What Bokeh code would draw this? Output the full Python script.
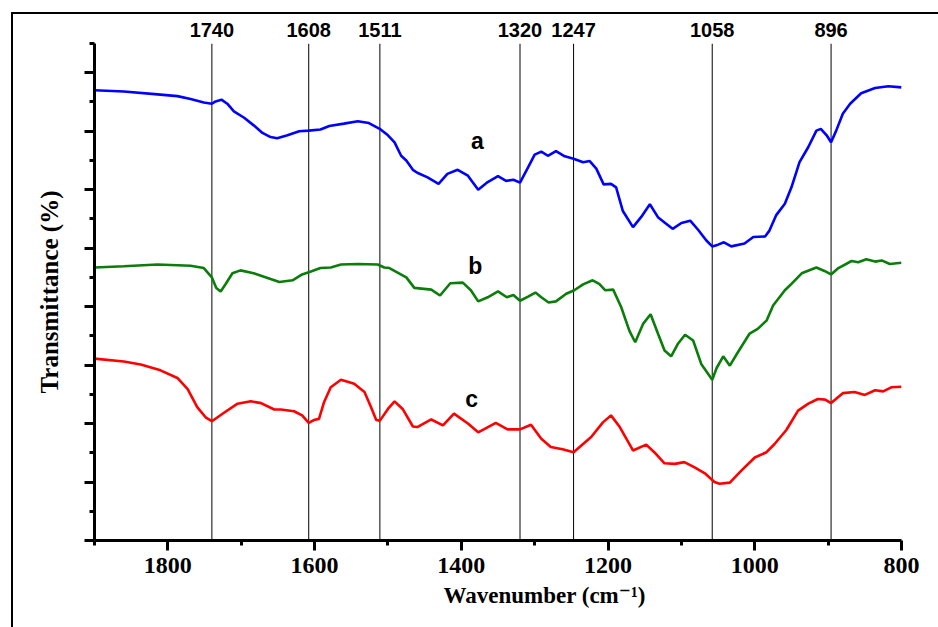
import math
from bokeh.plotting import figure
from bokeh.models import Range1d, FixedTicker, LinearAxis, Span, Label, Title, CustomJSTickFormatter
from bokeh.embed import file_html
from bokeh.resources import INLINE

# ---- data (wavenumber, transmittance in arbitrary offset units) ----
wn_a = [1900, 1860, 1814, 1787, 1769, 1751, 1740, 1735, 1727, 1719, 1710, 1696, 1683, 1671, 1660,
        1651, 1637, 1621, 1608, 1592, 1580, 1560, 1541, 1526, 1510, 1500, 1491, 1482, 1475, 1466,
        1460, 1446, 1431, 1419, 1405, 1391, 1377, 1364, 1350, 1339, 1329, 1320, 1309, 1300, 1291,
        1282, 1271, 1259, 1247, 1234, 1225, 1216, 1206, 1196, 1189, 1180, 1166, 1155, 1143, 1132,
        1123, 1112, 1100, 1088, 1077, 1066, 1058, 1050, 1042, 1032, 1014, 1002, 986, 980, 971,
        959, 950, 939, 927, 916, 910, 902, 896, 889, 880, 870, 855, 836, 818, 800]
t_a = [77.0, 76.8, 76.3, 76.0, 75.5, 74.9, 74.7, 75.1, 75.4, 74.7, 73.4, 72.3, 71.0, 69.7, 69.0,
       68.8, 69.3, 70.0, 70.1, 70.3, 70.9, 71.3, 71.7, 71.4, 70.3, 69.3, 68.1, 65.8, 65.0, 63.4,
       62.9, 62.1, 61.0, 62.7, 63.4, 62.4, 60.0, 61.3, 62.3, 61.5, 61.7, 61.2, 63.8, 66.0, 66.5,
       65.8, 66.6, 65.7, 65.3, 64.7, 64.9, 63.6, 60.9, 61.0, 60.4, 56.4, 53.6, 55.3, 57.5, 55.3,
       54.4, 53.3, 54.3, 54.7, 53.1, 51.3, 50.3, 50.6, 51.0, 50.3, 50.8, 51.9, 52.0, 53.0, 55.6,
       57.6, 60.4, 64.7, 67.3, 70.1, 70.4, 69.3, 68.1, 70.1, 73.0, 74.7, 76.5, 77.4, 77.7, 77.5]

wn_b = [1900, 1860, 1814, 1769, 1751, 1740, 1734, 1728, 1721, 1712, 1701, 1683, 1664, 1648, 1630,
        1617, 1605, 1592, 1578, 1564, 1541, 1514, 1505, 1498, 1485, 1475, 1464, 1441, 1429, 1415,
        1398, 1387, 1377, 1364, 1350, 1338, 1329, 1320, 1309, 1299, 1291, 1281, 1271, 1257, 1246,
        1234, 1221, 1212, 1204, 1193, 1182, 1171, 1163, 1152, 1142, 1132, 1123, 1114, 1105, 1095,
        1084, 1073, 1058, 1052, 1043, 1034, 1023, 1007, 996, 984, 975, 959, 950, 936, 916,
        905, 896, 886, 868, 859, 848, 836, 827, 816, 800]
t_b = [46.7, 46.9, 47.2, 47.0, 46.6, 45.0, 43.2, 42.6, 43.9, 45.7, 46.2, 45.7, 44.9, 44.2, 44.5,
       45.5, 46.0, 46.6, 46.7, 47.2, 47.3, 47.2, 46.7, 46.6, 45.7, 45.0, 43.2, 42.9, 41.9, 44.0,
       44.1, 42.8, 40.9, 41.6, 42.6, 41.6, 42.0, 41.0, 41.7, 42.4, 41.6, 40.7, 40.9, 42.2, 42.8,
       43.8, 44.5, 43.9, 42.8, 42.9, 39.9, 35.9, 33.9, 37.1, 38.7, 35.4, 32.5, 31.5, 33.6, 35.2,
       34.2, 30.2, 27.5, 29.5, 31.5, 29.9, 32.2, 35.4, 36.2, 37.6, 40.2, 42.8, 43.9, 45.7, 46.7,
       46.1, 45.5, 46.6, 47.8, 47.6, 48.1, 47.7, 47.9, 47.3, 47.5]

wn_c = [1900, 1860, 1837, 1810, 1787, 1773, 1760, 1748, 1740, 1724, 1705, 1687, 1673, 1655, 1646,
        1628, 1617, 1608, 1601, 1594, 1587, 1578, 1564, 1546, 1532, 1523, 1516, 1511, 1500, 1491,
        1480, 1466, 1460, 1441, 1425, 1410, 1391, 1377, 1353, 1337, 1320, 1305, 1291, 1278, 1262,
        1247, 1223, 1207, 1196, 1184, 1166, 1148, 1137, 1123, 1109, 1096, 1082, 1068, 1055, 1048,
        1034, 1018, 1000, 984, 973, 957, 941, 927, 914, 904, 896, 880, 864, 850, 836,
        825, 814, 800]
t_c = [31.1, 30.6, 30.1, 29.1, 27.8, 25.9, 22.8, 21.0, 20.4, 21.8, 23.4, 23.8, 23.5, 22.4, 22.4,
       22.1, 21.4, 20.1, 20.6, 20.8, 23.7, 26.2, 27.5, 26.8, 25.4, 22.8, 20.6, 20.5, 22.5, 23.8,
       22.5, 19.5, 19.4, 20.7, 19.7, 21.7, 20.0, 18.5, 20.1, 19.0, 19.0, 19.8, 17.4, 16.0, 15.6,
       15.1, 17.7, 20.2, 21.4, 19.4, 15.4, 16.4, 15.1, 13.2, 13.1, 13.4, 12.5, 11.5, 10.0, 9.7,
       9.9, 12.0, 14.2, 15.1, 16.5, 18.9, 22.2, 23.4, 24.2, 24.1, 23.5, 25.2, 25.4, 24.9, 25.7,
       25.5, 26.2, 26.3]

peaks = [1740, 1608, 1511, 1320, 1247, 1058, 896]
x_major = [800, 1000, 1200, 1400, 1600, 1800]
x_minor = [900, 1100, 1300, 1500, 1700, 1900]
y_major = [0, 10, 20, 30, 40, 50, 60, 70, 80]
y_minor = [5, 15, 25, 35, 45, 55, 65, 75, 85]
curve_names = ["a", "b", "c"]

SERIF = "Liberation Serif, Times New Roman, DejaVu Serif, serif"
SANS = "Liberation Sans, Arial, sans-serif"

p = figure(width=938, height=627, x_range=Range1d(1900, 800), y_range=Range1d(0, 85),
           output_backend="svg", toolbar_location=None,
           min_border_left=94, min_border_right=37, min_border_top=43, min_border_bottom=87)
p.xgrid.visible = False
p.ygrid.visible = False
p.outline_line_color = None
p.background_fill_color = None
p.border_fill_color = None
p.styles = {
    "background": "linear-gradient(#000,#000) 11px 12px / 2px 100% no-repeat, "
                  "linear-gradient(#000,#000) 11px 12px / 100% 2px no-repeat, #ffffff"
}

# bottom axis
xa = p.xaxis[0]
xa.ticker = FixedTicker(ticks=x_major, minor_ticks=x_minor)
xa.axis_line_width = 3
xa.axis_line_color = "black"
xa.major_tick_out = 10
xa.major_tick_in = 0
xa.minor_tick_out = 5
xa.minor_tick_in = 0
xa.major_tick_line_width = 3
xa.minor_tick_line_width = 3
xa.major_label_text_font = SERIF
xa.major_label_text_font_style = "bold"
xa.major_label_text_font_size = "24px"
xa.major_label_text_color = "black"
xa.major_label_standoff = 7

# left axis
ya = p.yaxis[0]
ya.ticker = FixedTicker(ticks=y_major, minor_ticks=y_minor)
ya.formatter = CustomJSTickFormatter(code="return ''")
ya.axis_line_width = 3
ya.axis_line_color = "black"
ya.major_tick_out = 10
ya.major_tick_in = 0
ya.minor_tick_out = 5
ya.minor_tick_in = 0
ya.major_tick_line_width = 3
ya.minor_tick_line_width = 3
ya.major_label_standoff = 0
ya.axis_label = "Transmittance (%)"
ya.axis_label_text_font = SERIF
ya.axis_label_text_font_style = "bold"
ya.axis_label_text_font_size = "25px"
ya.axis_label_text_color = "black"
ya.axis_label_standoff = 22

# top axis carrying the band positions
top = LinearAxis(ticker=FixedTicker(ticks=peaks, minor_ticks=[]))
top.axis_line_color = None
top.major_tick_line_color = None
top.minor_tick_line_color = None
top.major_tick_out = 0
top.major_tick_in = 0
top.major_label_text_font = SANS
top.major_label_text_font_style = "bold"
top.major_label_text_font_size = "20px"
top.major_label_text_color = "black"
top.major_label_standoff = 7
p.add_layout(top, "above")

# x title
p.add_layout(Title(text="Wavenumber (cm\u207b\u00b9)", align="left", offset=349,
                   text_font=SERIF, text_font_style="bold", text_font_size="23px",
                   text_color="black", standoff=10), "below")

for pk in peaks:
    p.add_layout(Span(location=pk, dimension="height", line_color="black",
                      line_width=1, level="underlay"))

p.line(wn_a, t_a, line_color="#0000ff", line_width=2.6)
p.line(wn_b, t_b, line_color="#0a7d0a", line_width=2.6)
p.line(wn_c, t_c, line_color="#ff0000", line_width=2.6)

# curve letters
for name, (lx, ly) in zip(curve_names, [(1378, 68.4), (1381, 47.0), (1386, 24.2)]):
    p.add_layout(Label(x=lx, y=ly, text=name, text_font=SANS, text_font_style="bold",
                       text_font_size="23px", text_align="center", text_baseline="alphabetic",
                       text_color="black"))

open("out.html", "w").write(file_html(p, INLINE))
